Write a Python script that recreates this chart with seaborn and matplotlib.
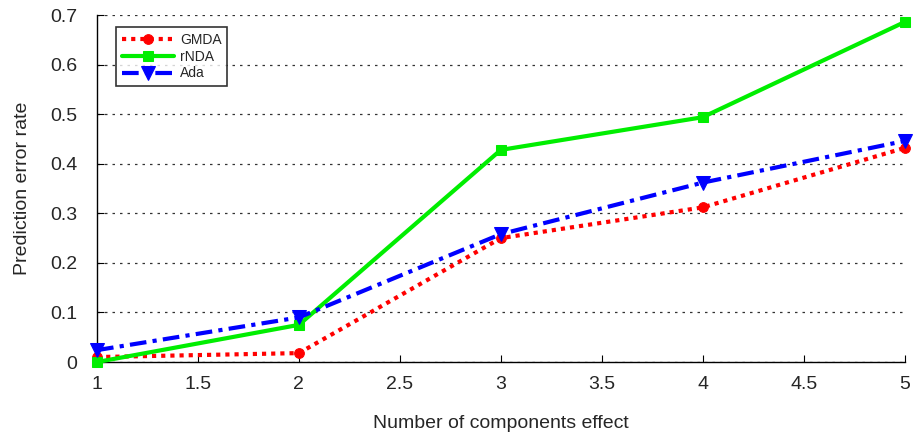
import pandas as pd
import matplotlib.pyplot as plt
import seaborn as sns

# DATA
components = [1, 2, 3, 4, 5]
gmda = [0.010, 0.018, 0.250, 0.312, 0.432]
rnda = [0.000, 0.075, 0.428, 0.494, 0.686]
ada = [0.024, 0.090, 0.258, 0.362, 0.446]

df = pd.DataFrame({
    "components": components * 3,
    "error": gmda + rnda + ada,
    "method": ["GMDA"] * 5 + ["rNDA"] * 5 + ["Ada"] * 5,
})

sns.set_style("white")
plt.rcParams["font.family"] = ["Liberation Sans", "DejaVu Sans"]

fig = plt.figure(figsize=(9.24, 4.32), dpi=100)
ax = fig.add_axes([0.105, 0.162, 0.874, 0.803])

styles = {
    "GMDA": dict(color="#ff0000", linestyle=(0, (1, 1.2)), marker="o", ms=7),
    "rNDA": dict(color="#00ee00", linestyle="-", marker="s", ms=7),
    "Ada": dict(color="#0000ff", linestyle=(0, (4, 1.5, 1, 1.5)), marker="v", ms=10),
}
for name, st in styles.items():
    sub = df[df["method"] == name]
    sns.lineplot(data=sub, x="components", y="error", ax=ax, label=name,
                 color=st["color"], linestyle=st["linestyle"], marker=st["marker"],
                 markersize=st["ms"], markeredgecolor=st["color"], linewidth=3,
                 clip_on=False, zorder=3)

ax.set_xlim(1, 5)
ax.set_ylim(0, 0.7)
ax.set_xticks([1, 1.5, 2, 2.5, 3, 3.5, 4, 4.5, 5])
ax.set_xticklabels(["1", "1.5", "2", "2.5", "3", "3.5", "4", "4.5", "5"])
ax.set_yticks([0, 0.1, 0.2, 0.3, 0.4, 0.5, 0.6, 0.7])
ax.set_yticklabels(["0", "0.1", "0.2", "0.3", "0.4", "0.5", "0.6", "0.7"])
ax.yaxis.grid(True, linestyle=(0, (2, 4)), color="#333333", linewidth=0.9)
ax.xaxis.grid(False)
for s in ["top", "right"]:
    ax.spines[s].set_visible(False)
for s in ["left", "bottom"]:
    ax.spines[s].set_color("black")
    ax.spines[s].set_linewidth(1)
ax.tick_params(axis="both", direction="in", length=5, labelsize=14,
               bottom=True, left=True, color="black")
ax.tick_params(axis="x", pad=10)
ax.tick_params(axis="y", pad=14)
ax.set_xlabel("Number of components effect", fontsize=14, labelpad=16)
ax.set_ylabel("Prediction error rate", fontsize=14, labelpad=14)

leg = ax.legend(loc="upper left", bbox_to_anchor=(0.015, 0.985), fontsize=10,
                frameon=True, fancybox=False, handlelength=3.8, borderpad=0.4,
                labelspacing=0.2, handletextpad=0.4)
leg.get_frame().set_edgecolor("black")
leg.get_frame().set_linewidth(1.2)

fig.savefig("out.png", dpi=100)
